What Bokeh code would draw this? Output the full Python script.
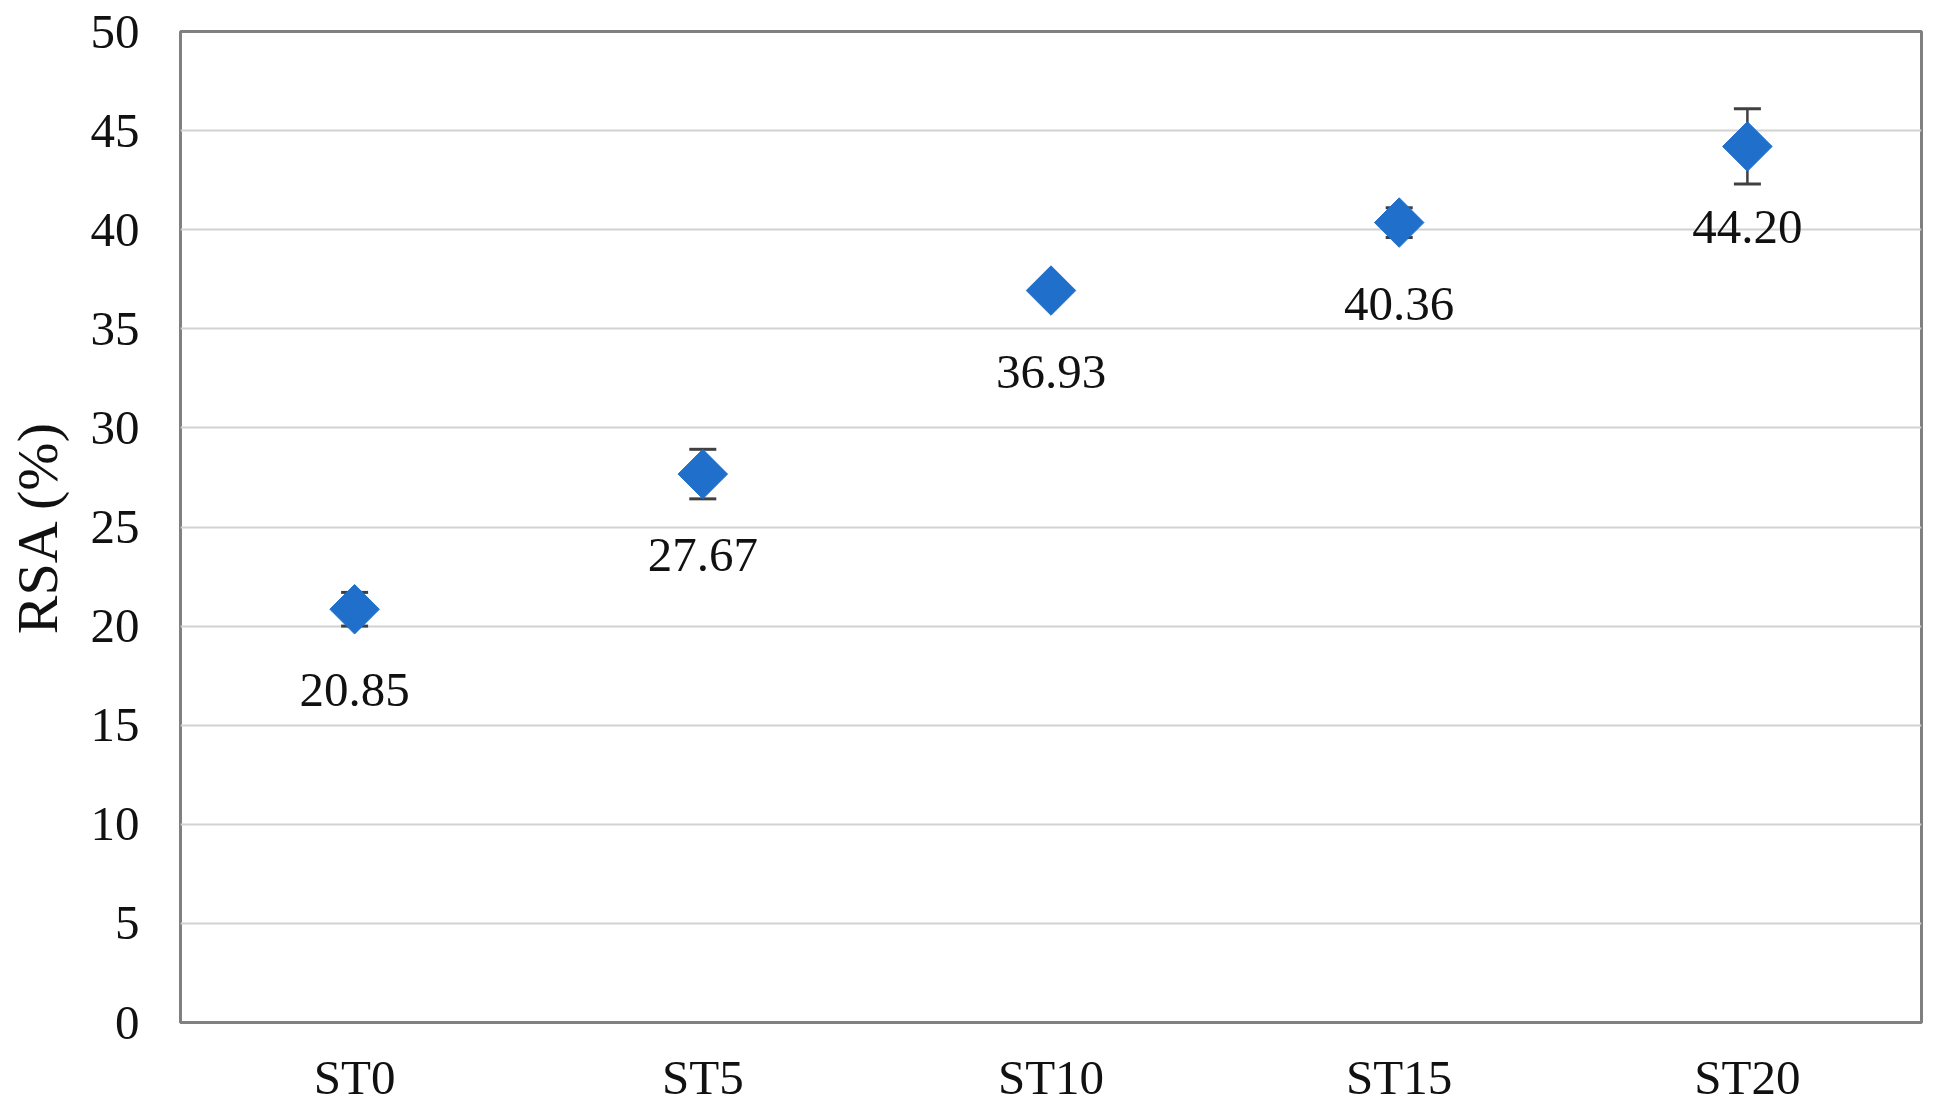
import math
from bokeh.plotting import figure
from bokeh.models import ColumnDataSource, Whisker, TeeHead, FactorRange, Range1d, SingleIntervalTicker
from bokeh.core.properties import value
from bokeh.embed import file_html
from bokeh.resources import INLINE

categories = ["ST0", "ST5", "ST10", "ST15", "ST20"]
rsa = [20.85, 27.67, 36.93, 40.36, 44.20]
err = [0.85, 1.25, 0.40, 0.75, 1.90]

FONT = "Liberation Serif"

src = ColumnDataSource(dict(
    x=categories,
    y=rsa,
    upper=[v + e for v, e in zip(rsa, err)],
    lower=[v - e for v, e in zip(rsa, err)],
    label=["%.2f" % v for v in rsa],
))

p = figure(
    x_range=FactorRange(*categories, range_padding=0),
    y_range=Range1d(0, 50),
    width=1932, height=1114,
    output_backend="svg", toolbar_location=None,
    min_border_left=180, min_border_right=11, min_border_top=31, min_border_bottom=92,
)
p.x_range.factor_padding = 0

p.outline_line_color = "#808080"
p.outline_line_width = 3
p.background_fill_color = "white"
p.border_fill_color = "white"

p.xgrid.grid_line_color = None
p.ygrid.grid_line_color = "#d2d2d2"
p.ygrid.grid_line_width = 2

p.yaxis.ticker = SingleIntervalTicker(interval=5)
for ax in (p.xaxis[0], p.yaxis[0]):
    ax.axis_line_color = None
    ax.major_tick_line_color = None
    ax.minor_tick_line_color = None
    ax.major_tick_out = 0
    ax.major_tick_in = 0
    ax.major_label_text_font = FONT
    ax.major_label_text_font_size = "49px"
    ax.major_label_text_color = "#111111"

p.yaxis.major_label_standoff = 37
p.xaxis.major_label_standoff = 27
p.yaxis.axis_label = "RSA (%)"
p.yaxis.axis_label_text_font = FONT
p.yaxis.axis_label_text_font_size = "58px"
p.yaxis.axis_label_text_font_style = "normal"
p.yaxis.axis_label_text_color = "#111111"
p.yaxis.axis_label_standoff = 18

w = Whisker(source=src, base="x", upper="upper", lower="lower",
            line_color="#404040", line_width=2.5,
            upper_head=TeeHead(size=27, line_color="#404040", line_width=3),
            lower_head=TeeHead(size=27, line_color="#404040", line_width=3))
p.add_layout(w)

p.scatter(x="x", y="y", source=src, marker="square", size=35, angle=math.pi / 4,
          fill_color="#1f6fcb", line_color="#1f6fcb", line_width=1)

p.text(x="x", y="y", text="label", source=src, text_align="center", text_baseline="middle",
       y_offset=81, text_font=value(FONT), text_font_size="49px", text_color="#111111")

open("out.html", "w").write(file_html(p, INLINE))
